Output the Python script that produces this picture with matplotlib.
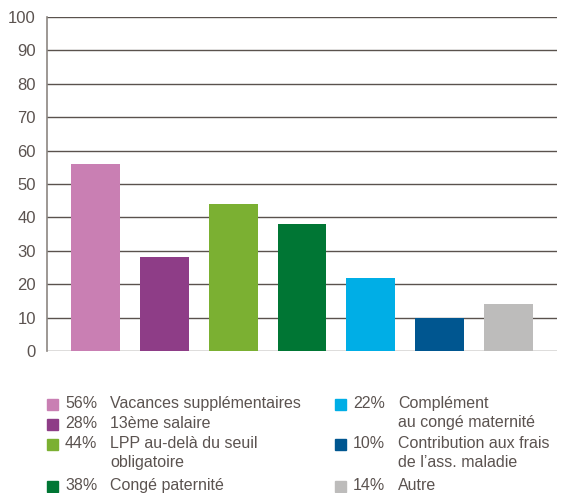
import matplotlib
matplotlib.use("Agg")
import matplotlib.pyplot as plt
from matplotlib.patches import Rectangle

values = [56, 28, 44, 38, 22, 10, 14]
labels = ["Vacances supplémentaires", "13ème salaire", "LPP au-delà du seuil\nobligatoire",
          "Congé paternité", "Complément\nau congé maternité",
          "Contribution aux frais\nde l’ass. maladie", "Autre"]
colors = ["#c97fb3", "#8e3d87", "#7bb032", "#007634", "#00aee6", "#005690", "#bdbcbb"]
yticks = [0, 10, 20, 30, 40, 50, 60, 70, 80, 90, 100]

txt = "#5b5350"
plt.rcParams['font.family'] = ['Liberation Sans', 'DejaVu Sans']

fig = plt.figure(figsize=(5.71, 4.93), dpi=100)
ax = fig.add_axes([47/571, 1-351/493, 510/571, 334/493])

ax.bar(range(len(values)), values, width=0.71, color=colors, zorder=3)
ax.set_xlim(-0.7, 6.7)
ax.set_ylim(0, 100)
ax.set_yticks(yticks)
ax.set_xticks([])
for y in yticks:
    ax.axhline(y, color="#5a524d", lw=1.0, zorder=1)
for s in ["top", "right", "bottom"]:
    ax.spines[s].set_visible(False)
ax.spines["left"].set_color("#8c8682")
ax.spines["left"].set_linewidth(1.2)
ax.tick_params(axis="y", length=0, pad=8, labelsize=12, labelcolor=txt)

# legend drawn by hand: two columns
W, H = 571, 493
cols = [(47, [0, 1, 2, 3]), (335, [4, 5, 6])]
row_y = {0: [404, 424, 444, 486], 1: [404, 444, 486]}
for c, (x0, idx) in enumerate(cols):
    for i, yy in zip(idx, row_y[c]):
        fig.patches.append(Rectangle((x0/W, 1-(yy+6)/H), 11/W, 11/H,
                                     transform=fig.transFigure, color=colors[i]))
        fig.text((x0+18)/W, 1-yy/H, f"{values[i]}%", fontsize=11.5, color=txt,
                 va="center", ha="left")
        fig.text((x0+63)/W, 1-(yy-8)/H, labels[i], fontsize=11.5, color=txt,
                 va="top", ha="left", linespacing=1.3)

fig.savefig("out.png", dpi=100)
